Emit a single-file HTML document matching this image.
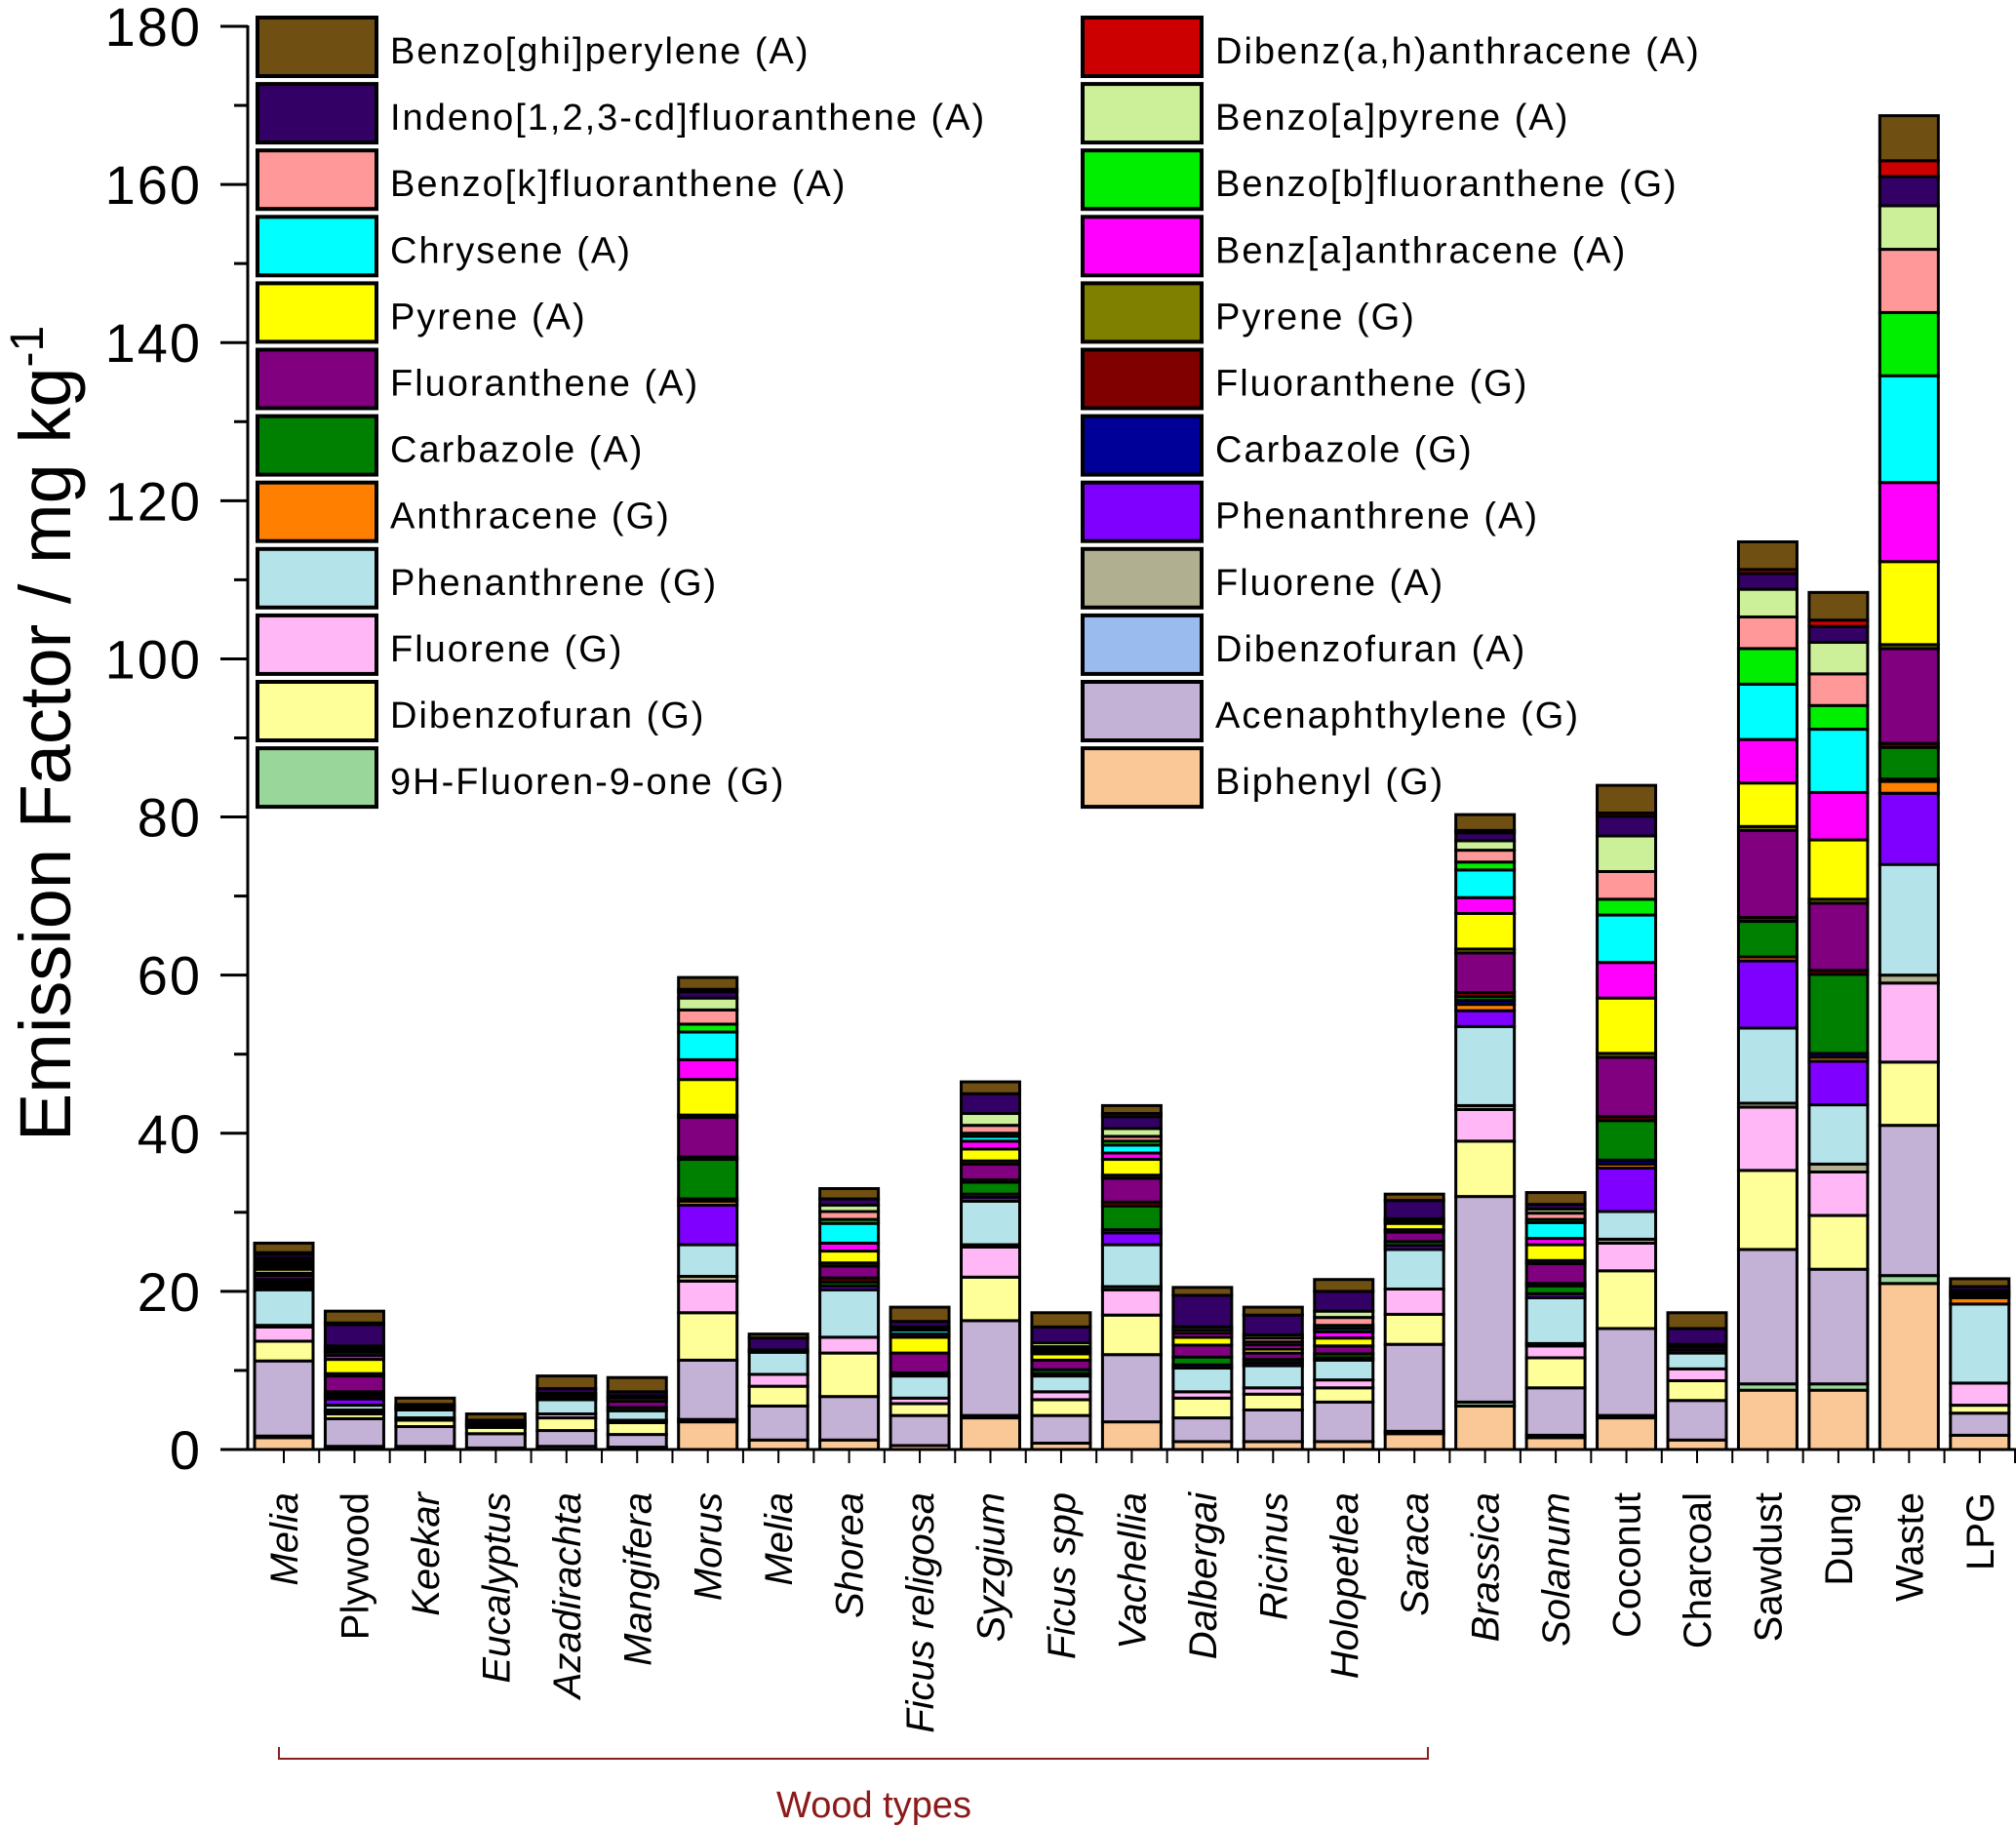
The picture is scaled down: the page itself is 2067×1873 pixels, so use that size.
<!DOCTYPE html>
<html><head><meta charset="utf-8"><style>
html,body{margin:0;padding:0;background:#fff;}
svg{display:block;font-family:"Liberation Sans",Arial,sans-serif;}
</style></head><body>
<svg id="chart" width="2067" height="1873" viewBox="0 0 2067 1873" xmlns="http://www.w3.org/2000/svg">
<g id="bars"></g>
<g id="axes"></g>
<g id="legend"></g>
<text transform="translate(72,752) rotate(-90)" text-anchor="middle" font-size="74">Emission Factor / mg kg<tspan dy="-28" font-size="48">-1</tspan></text>
<path d="M286,1791 V1803 H1464 V1791" fill="none" stroke="#8B2020" stroke-width="2"/>
<text x="896" y="1863" text-anchor="middle" font-size="38" fill="#8B1A1A">Wood types</text>
</svg>
<script>
const categories = ["Melia","Plywood","Keekar","Eucalyptus","Azadirachta","Mangifera","Morus","Melia","Shorea","Ficus religosa","Syzgium","Ficus spp","Vachellia","Dalbergai","Ricinus","Holopetlea","Saraca","Brassica","Solanum","Coconut","Charcoal","Sawdust","Dung","Waste","LPG"];
const italicCats = [true,false,true,true,true,true,true,true,true,true,true,true,true,true,true,true,true,true,true,false,false,false,false,false,false];
const yTicks = [0,20,40,60,80,100,120,140,160,180];
const seriesNames = ["Biphenyl (G)","9H-Fluoren-9-one (G)","Acenaphthylene (G)","Dibenzofuran (A)","Dibenzofuran (G)","Fluorene (G)","Fluorene (A)","Phenanthrene (G)","Phenanthrene (A)","Anthracene (G)","Carbazole (G)","Carbazole (A)","Fluoranthene (G)","Fluoranthene (A)","Pyrene (G)","Pyrene (A)","Benz[a]anthracene (A)","Chrysene (A)","Benzo[b]fluoranthene (G)","Benzo[k]fluoranthene (A)","Benzo[a]pyrene (A)","Indeno[1,2,3-cd]fluoranthene (A)","Dibenz(a,h)anthracene (A)","Benzo[ghi]perylene (A)"];
const seriesColors = ["#FAC896","#99D699","#C3B1D6","#99BBEE","#FFFF99","#FFB8F5","#B0B090","#B5E3EA","#8000FF","#FF8000","#000099","#008000","#800000","#800080","#808000","#FFFF00","#FF00FF","#00FFFF","#00EE00","#FF9999","#CCF099","#330066","#CC0000","#6F5012"];
const biphenyl = [1.5,0.3,0.2,0.2,0.4,0.3,3.5,1.2,1.2,0.5,4,0.8,3.5,1,1,1,2,5.5,1.5,4,1.2,7.5,7.5,21,1.8];
const fluorenone = [0.2,0.1,0.2,0,0,0,0.3,0,0,0,0.3,0,0,0,0,0,0.3,0.5,0.3,0.3,0,0.8,0.8,1,0];
const acenaphthyleneG = [9.5,3.5,2.5,1.8,2,1.6,7.5,4.3,5.5,3.8,12,3.5,8.5,3,4,5,11,26,6,11,5,17,14.5,19,2.8];
const dibenzofuranA = [0,0,0,0,0,0,0,0,0,0,0,0,0,0,0,0,0,0,0,0,0,0,0,0,0];
const dibenzofuranG = [2.5,0.6,0.8,0.8,1.6,1.5,6,2.5,5.5,1.5,5.5,2,5,2.5,2,1.8,3.8,7,3.8,7.3,2.5,10,6.8,8,1];
const fluoreneG = [1.8,0.3,0.3,0,0.5,0.3,4,1.5,2,0.7,3.8,1,3.2,0.8,0.8,1,3.2,4,1.5,3.5,1.5,8,5.5,10,2.8];
const fluoreneA = [0.2,0.2,0,0,0,0,0.6,0,0,0,0.3,0,0.4,0,0,0,0,0.5,0.3,0.5,0,0.5,1,1,0];
const phenanthreneG = [4.5,0.6,1,0.3,1.8,1.2,4,2.8,6,2.8,5.5,2,5.3,3,2.8,2.5,5,10,5.8,3.5,2,9.5,7.5,14,10];
const phenanthreneA = [0.3,0.8,0,0,0,0,5,0,0.5,0.2,0.5,0.3,1.5,0.4,0.4,0.3,0.5,2,0.5,5.5,0,8.5,5.5,9,0];
const anthraceneG = [0.2,0.2,0,0,0,0,0.5,0,0,0,0.4,0,0.4,0,0,0,0,0.8,0,0.5,0,0.5,0.5,1.5,0.8];
const carbazoleG = [0.2,0.2,0,0,0,0,0.3,0,0,0,0,0,0,0,0,0,0,0.5,0,0.5,0,0,0.5,0.3,0];
const carbazoleA = [0.3,0.2,0,0,0,0.4,5,0,0.5,0.2,1.5,0.5,3,1,0.4,0.5,0.5,0.5,1,5,0.4,4.5,10,4,0.3];
const fluorantheneG = [0.3,0.3,0,0,0,0,0.3,0,0.5,0,0.3,0,0.5,0,0,0,0,0.5,0.3,0.5,0,0.5,0.5,0.5,0];
const fluorantheneA = [0.5,2,0.2,0.2,0.3,0.8,5,0.3,1.5,2.5,2,1.2,3,1.5,0.8,1,1.2,5,2.5,7.5,0.4,11,8.5,12,0.3];
const pyreneG = [0.3,0.3,0,0,0,0,0.3,0,0.4,0,0.4,0,0.4,0,0,0,0.3,0.5,0.4,0.5,0,0.5,0.5,0.5,0];
const pyreneA = [0.5,1.8,0.2,0,0.3,0.4,4.5,0,1.5,2,1.5,0.8,2,1,0.5,1,0.8,4.5,2,7,0.3,5.5,7.5,10.5,0.3];
const benzAnthracene = [0.3,0.5,0,0,0.2,0.3,2.5,0,1,0.4,1,0.3,0.8,0.5,0.5,0.8,0.3,2,0.8,4.5,0,5.5,6,10,0];
const chrysene = [0.3,0.4,0,0,0,0,3.5,0,2.5,0.5,0.6,0.3,1,0,0.4,0.4,0.3,3.5,2,6,0,7,8,13.5,0];
const benzoBF = [0.2,0.2,0,0,0,0,1,0,0.5,0,0.4,0,0.5,0,0,0.4,0,1,0.4,2,0,4.5,3,8,0];
const benzoKF = [0.3,0.3,0,0,0,0,1.8,0,1,0.2,1,0.3,0.6,0.4,0.5,1,0,1.5,0.8,3.5,0,4,4,8,0];
const benzoAP = [0.3,0.3,0,0,0,0,1.5,0,0.8,0.2,1.5,0.5,1,0.4,0.4,0.8,0,1.2,0.5,4.5,0,3.5,4,5.5,0];
const indeno = [0.5,2.7,0.3,0.4,0.6,0.5,0.8,1.5,0.8,0.7,2.5,2,1.5,4,2.5,2.5,2.3,1,0.6,2.5,2,2,2,3.7,0.5];
const dibenzAH = [0.2,0.2,0,0,0,0,0.3,0,0,0,0,0,0.4,0,0,0,0,0.3,0,0.4,0,0.5,0.8,2,0];
const benzoGHI = [1.2,1.5,0.8,0.8,1.6,1.8,1.5,0.5,1.3,1.8,1.5,1.8,1,1,1,1.5,0.8,2,1.5,3.5,2,3.5,3.5,5.7,1];

const series = [biphenyl,fluorenone,acenaphthyleneG,dibenzofuranA,dibenzofuranG,fluoreneG,fluoreneA,phenanthreneG,phenanthreneA,anthraceneG,carbazoleG,carbazoleA,fluorantheneG,fluorantheneA,pyreneG,pyreneA,benzAnthracene,chrysene,benzoBF,benzoKF,benzoAP,indeno,dibenzAH,benzoGHI];

const NS="http://www.w3.org/2000/svg";
const X0=254, Y0=1486, YTOP=27, YMAX=180, STEP=72.45, BW=60;
function yScale(v){return Y0-(v/YMAX)*(Y0-YTOP);}
function xCenter(i){return X0+37+i*STEP;}
function mk(tag,attrs,parent){const e=document.createElementNS(NS,tag);for(const k in attrs)e.setAttribute(k,attrs[k]);parent.appendChild(e);return e;}

const gBars=document.getElementById('bars');
categories.forEach((c,i)=>{
  let cum=0;
  const g=mk('g',{},gBars);
  
  
  series.forEach((s,k)=>{
    const v=s[i]; if(!v) return;
    const y1=yScale(cum), y2=yScale(cum+v); cum+=v;
    const r=mk('rect',{x:xCenter(i)-BW/2,y:y2,width:BW,height:Math.max(y1-y2,0.5),fill:seriesColors[k],stroke:'#000','stroke-width':3},g);
    
    
  });
});

const gA=document.getElementById('axes');
mk('line',{x1:X0,y1:YTOP-1,x2:X0,y2:Y0+1,stroke:'#000','stroke-width':3},gA);
mk('line',{x1:X0,y1:Y0,x2:2067,y2:Y0,stroke:'#000','stroke-width':3},gA);
yTicks.forEach(t=>{
  const y=yScale(t);
  mk('line',{x1:X0-28,y1:y,x2:X0,y2:y,stroke:'#000','stroke-width':3},gA);
  const tx=mk('text',{x:207,y:y+20,'text-anchor':'end','font-size':56,'letter-spacing':2},gA);
  tx.textContent=t;
  
  
  if(t<YMAX){const ym=yScale(t+10);mk('line',{x1:X0-14,y1:ym,x2:X0,y2:ym,stroke:'#000','stroke-width':3},gA);}
});
categories.forEach((c,i)=>{
  const x=xCenter(i);
  mk('line',{x1:x,y1:Y0,x2:x,y2:Y0+14,stroke:'#000','stroke-width':2},gA);
  mk('line',{x1:x+STEP/2,y1:Y0,x2:x+STEP/2,y2:Y0+14,stroke:'#000','stroke-width':2},gA);
  const t=mk('text',{transform:`translate(${x+14},1530) rotate(-90)`,'text-anchor':'end','font-size':40,'font-style':italicCats[i]?'italic':'normal'},gA);
  t.textContent=c;
  
  
});

const gL=document.getElementById('legend');
const leftNames=["Benzo[ghi]perylene (A)","Indeno[1,2,3-cd]fluoranthene (A)","Benzo[k]fluoranthene (A)","Chrysene (A)","Pyrene (A)","Fluoranthene (A)","Carbazole (A)","Anthracene (G)","Phenanthrene (G)","Fluorene (G)","Dibenzofuran (G)","9H-Fluoren-9-one (G)"];
const rightNames=["Dibenz(a,h)anthracene (A)","Benzo[a]pyrene (A)","Benzo[b]fluoranthene (G)","Benz[a]anthracene (A)","Pyrene (G)","Fluoranthene (G)","Carbazole (G)","Phenanthrene (A)","Fluorene (A)","Dibenzofuran (A)","Acenaphthylene (G)","Biphenyl (G)"];
[[leftNames,264],[rightNames,1110]].forEach(([names,x0])=>{
  names.forEach((n,r)=>{
    const k=seriesNames.indexOf(n);
    const y=18+r*68.1;
    const g=mk('g',{},gL);
    
    
    mk('rect',{x:x0,y:y,width:122,height:60,fill:seriesColors[k],stroke:'#000','stroke-width':4},g);
    const t=mk('text',{x:x0+136,y:y+47,'font-size':38,'letter-spacing':2},g);
    t.textContent=n;
  });
});
</script>
</body></html>
